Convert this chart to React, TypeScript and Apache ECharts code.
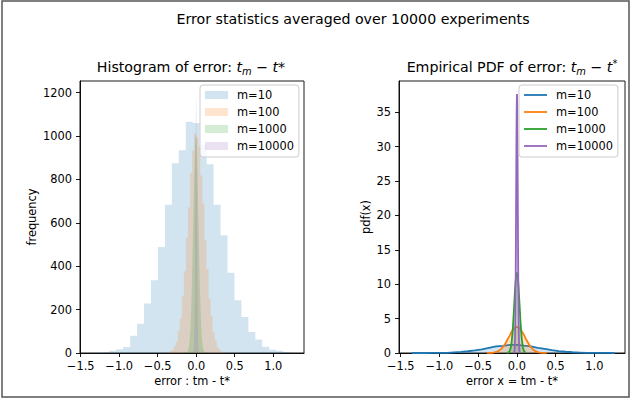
import React, { useEffect, useRef } from 'react';
import * as echarts from 'echarts';

const FONT = 'DejaVu Sans';

const suptitle = 'Error statistics averaged over 10000 experiments';
const histTitleText = 'Histogram of error: ';
const pdfTitleText = 'Empirical PDF of error: ';
const histXName = 'error : tm - t*';
const histYName = 'frequency';
const pdfXName = 'error x = tm - t*';
const pdfYName = 'pdf(x)';

const seriesNames = ['m=10', 'm=100', 'm=1000', 'm=10000'];
const seriesRGB = [
  [31, 119, 180],
  [255, 127, 14],
  [44, 160, 44],
  [148, 103, 189],
];

// histogram bin ranges (min, max of the errors), 30 bins each
const binRange10 = [-1.4, 1.31];
const binRange100 = [-0.4, 0.4];
const binRange1000 = [-0.13, 0.125];
const binRange10000 = [-0.048, 0.047];

// bin counts (10000 experiments)
const counts10 = [1, 1, 3, 10, 17, 28, 80, 135, 228, 335, 489, 683, 875, 935, 1066, 1060, 960, 870, 683, 543, 370, 243, 166, 97, 62, 29, 15, 10, 5, 1];
const counts100 = [1, 2, 8, 13, 31, 52, 101, 160, 263, 377, 531, 672, 831, 934, 1011, 995, 948, 818, 688, 519, 386, 252, 170, 94, 58, 26, 15, 6, 4, 1];
const counts1000 = [1, 3, 7, 12, 27, 48, 91, 146, 241, 347, 494, 633, 791, 901, 991, 1000, 955, 868, 722, 583, 426, 306, 196, 126, 69, 41, 18, 11, 4, 2];
const counts10000 = [1, 1, 1, 3, 6, 13, 30, 71, 129, 243, 386, 590, 789, 1002, 1131, 1190, 1144, 988, 801, 577, 395, 234, 137, 65, 34, 13, 5, 2, 1, 1];

const xTickValues = [-1.5, -1.0, -0.5, 0.0, 0.5, 1.0];
const histYTicks = [0, 200, 400, 600, 800, 1000, 1200];
const pdfYTicks = [0, 5, 10, 15, 20, 25, 30, 35];

const histXLimits = [-1.509, 1.4];
const pdfXLimits = [-1.522, 1.396];
const histYMax = 1254;
const pdfYMax = 39.55;

const allCounts = [counts10, counts100, counts1000, counts10000];
const allRanges = [binRange10, binRange100, binRange1000, binRange10000];

function rgba(k: number, a: number) {
  const c = seriesRGB[k];
  return `rgba(${c[0]},${c[1]},${c[2]},${a})`;
}

function stepData(range: number[], counts: number[]) {
  const n = counts.length;
  const w = (range[1] - range[0]) / n;
  const d: number[][] = counts.map((c, i) => [range[0] + w * i, c]);
  d.push([range[1], counts[n - 1]]);
  return d;
}

function pdfData(range: number[], counts: number[]) {
  const n = counts.length;
  const w = (range[1] - range[0]) / n;
  const total = counts.reduce((a, b) => a + b, 0);
  return counts.map((c, i) => [range[0] + w * (i + 0.5), c / (total * w)]);
}

function fmtX(v: number) {
  const s = Math.abs(v).toFixed(1);
  return v < -1e-9 ? '\u2212' + s : s;
}

function fmtY(v: number) {
  return String(Math.round(v));
}

const TICK = 11.4;
const TITLE = 14.2;
const SCRIPT = 9.9;

const titleRich = {
  n: { fontSize: TITLE, fontFamily: FONT, color: '#000', lineHeight: 18 },
  i: { fontSize: TITLE, fontFamily: FONT, fontStyle: 'italic', color: '#000', lineHeight: 18 },
  s: { fontSize: SCRIPT, fontFamily: FONT, fontStyle: 'italic', color: '#000', lineHeight: 10, verticalAlign: 'bottom' },
  p: { fontSize: SCRIPT, fontFamily: FONT, color: '#000', lineHeight: 10, verticalAlign: 'top' },
};

function axisCommon() {
  return {
    axisLine: { show: true, onZero: false, lineStyle: { color: '#000', width: 0.9 } },
    axisTick: { show: true, length: 4, lineStyle: { color: '#000', width: 0.9 } },
    splitLine: { show: false },
  };
}

export default function App() {
  const ref = useRef<HTMLDivElement>(null);
  useEffect(() => {
    document.body.style.margin = '0';
    if (!ref.current) return;
    const chart = echarts.init(ref.current, null, { renderer: 'svg' });

    const histSeries = seriesNames.map((name, k) => ({
      name,
      type: 'line',
      xAxisIndex: 0,
      yAxisIndex: 0,
      step: 'end',
      symbol: 'none',
      data: stepData(allRanges[k], allCounts[k]),
      lineStyle: { width: 0, opacity: 0 },
      itemStyle: { color: rgba(k, 0.2) },
      areaStyle: { color: rgba(k, 0.2), opacity: 1 },
      silent: true,
      z: 2 + k,
    }));

    const pdfSeries = seriesNames.map((name, k) => ({
      name: 'pdf:' + name,
      type: 'line',
      xAxisIndex: 1,
      yAxisIndex: 1,
      symbol: 'none',
      data: pdfData(allRanges[k], allCounts[k]),
      lineStyle: { width: 1.8, color: rgba(k, 1) },
      itemStyle: { color: rgba(k, 1) },
      areaStyle: { color: rgba(k, 1), opacity: 0.2 },
      silent: true,
      z: 10 + k,
    }));

    const legendCommon = {
      orient: 'vertical',
      top: 85,
      itemWidth: 23,
      itemGap: 3,
      padding: [3, 5, 4, 5],
      backgroundColor: 'rgba(255,255,255,0.8)',
      borderColor: '#cccccc',
      borderWidth: 1,
      borderRadius: 3,
      selectedMode: false,
      textStyle: { fontSize: TICK, fontFamily: FONT, color: '#000', lineHeight: 14, padding: [0, 0, 0, 4] },
      z: 20,
    };

    chart.setOption({
      animation: false,
      textStyle: { fontFamily: FONT },
      title: [
        {
          text: suptitle,
          left: 353,
          top: 12,
          textAlign: 'center',
          padding: 0,
          textStyle: { fontSize: TITLE, fontWeight: 'normal', color: '#000', fontFamily: FONT },
        },
        {
          text: `{n|${histTitleText}}{i|t}{s|m}{n| \u2212 }{i|t}{n|*}`,
          left: 191,
          top: 58,
          textAlign: 'center',
          padding: 0,
          textStyle: { rich: titleRich, fontSize: TITLE, fontWeight: 'normal', color: '#000' },
        },
        {
          text: `{n|${pdfTitleText}}{i|t}{s|m}{n| \u2212 }{i|t}{p|*}`,
          left: 512,
          top: 58,
          textAlign: 'center',
          padding: 0,
          textStyle: { rich: titleRich, fontSize: TITLE, fontWeight: 'normal', color: '#000' },
        },
      ],
      legend: [
        {
          ...legendCommon,
          left: 200,
          itemHeight: 8,
          data: seriesNames.map((n, k) => ({ name: n, icon: 'rect', itemStyle: { color: rgba(k, 0.2), borderWidth: 0 } })),
        },
        {
          ...legendCommon,
          left: 519,
          itemHeight: 1.8,
          data: seriesNames.map((n, k) => ({ name: 'pdf:' + n, icon: 'rect', itemStyle: { color: rgba(k, 1), borderWidth: 0 } })),
          formatter: (n: string) => n.slice(4),
        },
      ],
      grid: [
        { left: 80, top: 81, width: 224, height: 272, show: true, borderColor: '#000', borderWidth: 0.9, backgroundColor: 'transparent' },
        { left: 399, top: 81, width: 226, height: 272, show: true, borderColor: '#000', borderWidth: 0.9, backgroundColor: 'transparent' },
      ],
      xAxis: [
        {
          type: 'value',
          gridIndex: 0,
          min: histXLimits[0],
          max: histXLimits[1],
          ...axisCommon(),
          axisTick: { ...axisCommon().axisTick, customValues: xTickValues },
          axisLabel: { customValues: xTickValues, formatter: fmtX, fontSize: TICK, color: '#000', margin: 7, fontFamily: FONT },
          name: histXName,
          nameLocation: 'middle',
          nameGap: 21,
          nameTextStyle: { fontSize: TICK, color: '#000', fontFamily: FONT },
        },
        {
          type: 'value',
          gridIndex: 1,
          min: pdfXLimits[0],
          max: pdfXLimits[1],
          ...axisCommon(),
          axisTick: { ...axisCommon().axisTick, customValues: xTickValues },
          axisLabel: { customValues: xTickValues, formatter: fmtX, fontSize: TICK, color: '#000', margin: 7, fontFamily: FONT },
          name: pdfXName,
          nameLocation: 'middle',
          nameGap: 21,
          nameTextStyle: { fontSize: TICK, color: '#000', fontFamily: FONT },
        },
      ],
      yAxis: [
        {
          type: 'value',
          gridIndex: 0,
          min: 0,
          max: histYMax,
          ...axisCommon(),
          axisTick: { ...axisCommon().axisTick, customValues: histYTicks },
          axisLabel: { customValues: histYTicks, formatter: fmtY, fontSize: TICK, color: '#000', margin: 8, fontFamily: FONT },
          name: histYName,
          nameLocation: 'middle',
          nameGap: 43,
          nameTextStyle: { fontSize: TICK, color: '#000', fontFamily: FONT },
        },
        {
          type: 'value',
          gridIndex: 1,
          min: 0,
          max: pdfYMax,
          ...axisCommon(),
          axisTick: { ...axisCommon().axisTick, customValues: pdfYTicks },
          axisLabel: { customValues: pdfYTicks, formatter: fmtY, fontSize: TICK, color: '#000', margin: 8, fontFamily: FONT },
          name: pdfYName,
          nameLocation: 'middle',
          nameGap: 28,
          nameTextStyle: { fontSize: TICK, color: '#000', fontFamily: FONT },
        },
      ],
      graphic: [
        {
          type: 'rect',
          shape: { x: 2, y: 1, width: 627, height: 396 },
          style: { fill: 'none', stroke: '#555555', lineWidth: 1.5 },
          silent: true,
          z: 100,
        },
      ],
      series: [...histSeries, ...pdfSeries],
    });
    return () => chart.dispose();
  }, []);
  return <div ref={ref} style={{ width: 631, height: 403 }} />;
}
